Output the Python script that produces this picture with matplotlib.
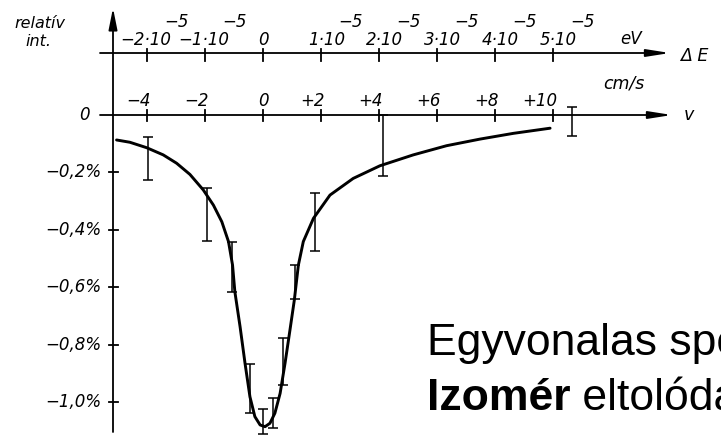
import numpy as np
import matplotlib
matplotlib.use("Agg")
import matplotlib.pyplot as plt
from matplotlib.patches import FancyArrowPatch

# absorption line: source velocity (cm/s) -> relative intensity (%)
curve_v = [-5.05, -4.59, -4.01, -3.44, -2.98, -2.52, -2.06, -1.71, -1.42,
           -1.19, -1.05, -0.97, -0.79, -0.62, -0.45, -0.28, -0.10, 0.07,
           0.24, 0.41, 0.59, 0.76, 0.93, 1.08, 1.16, 1.22, 1.39, 1.74, 2.31,
           3.11, 4.03, 5.18, 6.33, 7.48, 8.63, 9.90]
curve_int = [-0.087, -0.095, -0.114, -0.139, -0.168, -0.207, -0.261, -0.314,
             -0.372, -0.441, -0.523, -0.616, -0.738, -0.865, -0.982, -1.051,
             -1.080, -1.086, -1.074, -1.039, -0.970, -0.865, -0.749, -0.645,
             -0.575, -0.523, -0.441, -0.360, -0.279, -0.221, -0.177, -0.139,
             -0.107, -0.084, -0.064, -0.046]

# measured points, given as the top and bottom of each error bar
err_v = [-3.98, -1.92, -1.06, -0.45, 0.01, 0.33, 0.70, 1.10, 1.79, 4.13, 10.66]
err_top = [-0.075, -0.256, -0.441, -0.868, -1.025, -0.987, -0.778, -0.523,
           -0.271, 0.0, 0.028]
err_bottom = [-0.226, -0.439, -0.616, -1.040, -1.110, -1.092, -0.941, -0.641,
              -0.474, -0.213, -0.073]

v_ticks = [-4, -2, 0, 2, 4, 6, 8, 10]
v_labels = ["−4", "−2", "0", "+2", "+4", "+6", "+8", "+10"]
e_ticks = [-2, -1, 0, 1, 2, 3, 4, 5]          # energy in units of 1e-5 eV
int_ticks = [-0.2, -0.4, -0.6, -0.8, -1.0]
int_labels = ["−0,2%", "−0,4%", "−0,6%", "−0,8%", "−1,0%"]

W, H = 721, 436
X0, SX = 263, 29      # pixel of v=0, pixels per cm/s
Y0, SY = 115, 287     # pixel of 0 %, pixels per 1 %


def vx(px):
    return (px - X0) / SX


def iy(py):
    return (Y0 - py) / SY


hand = dict(family="DejaVu Sans", style="italic", color="k")

fig = plt.figure(figsize=(W / 100, H / 100), dpi=100)
ax = fig.add_axes([0, 0, 1, 1])
ax.set_xlim(vx(0), vx(W))
ax.set_ylim(iy(H), iy(0))
ax.axis("off")

lw_axis = 1.3
E_Y = iy(53)


def arrow(p0, p1, hl=14, hw=2.2):
    a = FancyArrowPatch(p0, p1, arrowstyle=f"-|>,head_length={hl},head_width={hw}",
                        mutation_scale=1, lw=lw_axis, color="k",
                        shrinkA=0, shrinkB=0)
    ax.add_patch(a)


# axes drawn by hand: intensity (vertical), velocity and energy (horizontal)
arrow((vx(113), iy(432)), (vx(113), iy(8)), hl=13, hw=2.6)
arrow((vx(100), 0), (vx(672), 0))
arrow((vx(100), E_Y), (vx(670), E_Y))

for v, lab in zip(v_ticks, v_labels):
    ax.plot([v, v], [iy(121), iy(110)], color="k", lw=lw_axis)
    if v == 0:
        ax.text(v, iy(101), lab, ha="center", va="center", fontsize=12, **hand)
    else:
        ax.text(v + 4 / SX, iy(101), lab, ha="right", va="center", fontsize=12, **hand)

for e in e_ticks:
    x = 2 * e
    ax.plot([x, x], [iy(61), iy(49)], color="k", lw=lw_axis)
    if e == 0:
        ax.text(x, iy(40), "0", ha="center", va="center", fontsize=12, **hand)
    else:
        base = ("−" if e < 0 else "") + f"{abs(e)}·10"
        ax.text(x + 24 / SX, iy(40), base, ha="right", va="center", fontsize=12, **hand)
        ax.text(x + 17 / SX, iy(22), "−5", ha="left", va="center", fontsize=12, **hand)

for t, lab in zip(int_ticks, int_labels):
    ax.plot([vx(109), vx(118)], [t, t], color="k", lw=lw_axis)
    ax.text(vx(101), t, lab, ha="right", va="center", fontsize=12, **hand)
ax.text(vx(84), 0, "0", ha="center", va="center", fontsize=12, **hand)

ax.text(vx(40), iy(24), "relatív", ha="center", va="center", fontsize=11.5, **hand)
ax.text(vx(38), iy(41), "int.", ha="center", va="center", fontsize=11.5, **hand)
ax.text(vx(631), iy(39), "eV", ha="center", va="center", fontsize=12, **hand)
ax.text(vx(680), iy(56), "Δ E", ha="left", va="center", fontsize=12.5, **hand)
ax.text(vx(624), iy(84), "cm/s", ha="center", va="center", fontsize=12.5, **hand)
ax.text(vx(684), iy(115), "v", ha="left", va="center", fontsize=12.5, **hand)

# drawn absorption curve and measured points
ax.plot(curve_v, curve_int, color="k", lw=2.1, solid_joinstyle="round",
        solid_capstyle="round")
top = np.array(err_top)
bot = np.array(err_bottom)
ax.errorbar(err_v, (top + bot) / 2, yerr=(top - bot) / 2, fmt="none",
            ecolor="k", elinewidth=1.1, capsize=3.5, capthick=1.1)

# caption, running past the right edge
cap = dict(family="Liberation Sans", fontsize=32, color="k")
ax.text(vx(427), iy(355), "Egyvonalas spektrum", ha="left", va="baseline", **cap)
t1 = ax.text(vx(427), iy(410), "Izomér", ha="left", va="baseline",
             fontweight="bold", **cap)
ax.annotate(" eltolódás", xy=(1, 0), xycoords=t1, ha="left", va="bottom", **cap)

fig.savefig("out.png", dpi=100)
